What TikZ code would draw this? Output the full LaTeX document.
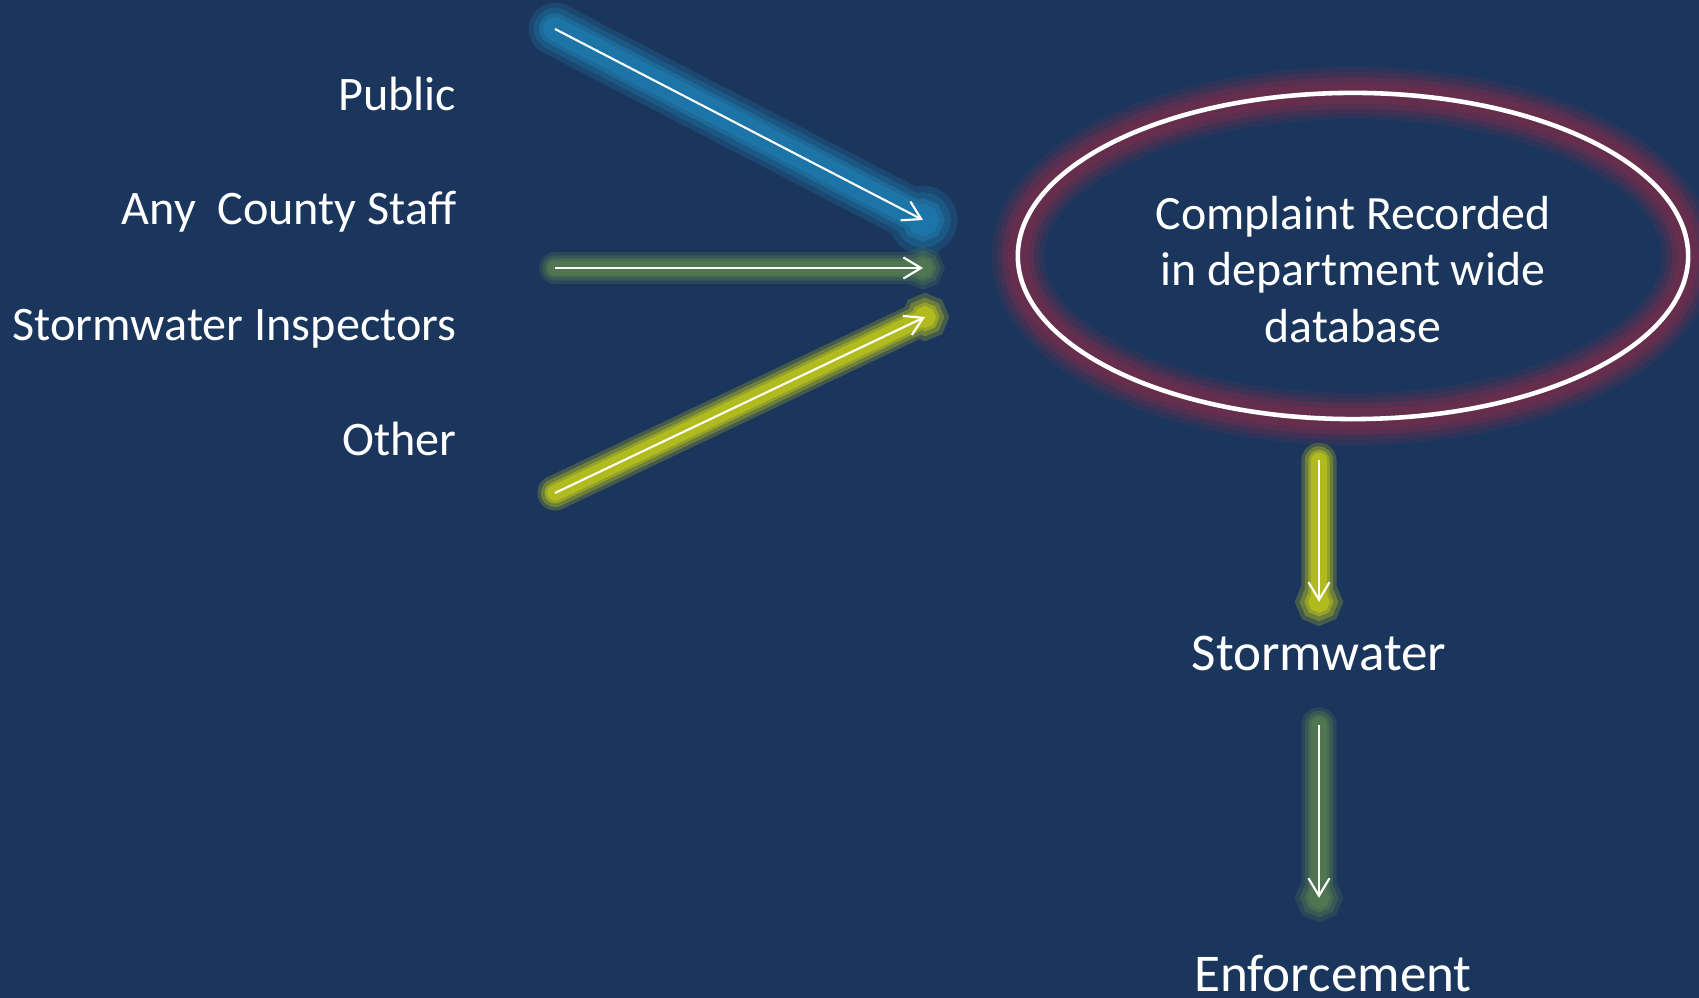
\documentclass[tikz,border=0pt]{standalone}
\usepackage{fontspec}
\setmainfont{Carlito}
\usetikzlibrary{arrows.meta,shapes.geometric}

\definecolor{bgblue}{RGB}{27,54,93}
\definecolor{glowblue}{RGB}{30,122,172}
\definecolor{glowgreen}{RGB}{84,124,80}
\definecolor{glowyellow}{RGB}{190,198,26}
\definecolor{glowred}{RGB}{112,46,76}

\tikzset{
  src/.style={anchor=base east, inner sep=0pt, text=white, font=\fontsize{13.7}{16}\selectfont},
  dest/.style={anchor=base, inner sep=0pt, text=white, font=\fontsize{15.1}{18}\selectfont},
  recbox/.style={ellipse, draw=white, line width=1.3pt, minimum width=6.7cm, minimum height=3.26cm,
    inner sep=0pt, text=white, align=center, font=\fontsize{13.6}{16.1}\selectfont},
  halo/.style={draw=#1, line cap=round},
  wire/.style={draw=white, line width=0.6pt, -{Straight Barb[length=5pt,width=6pt]}},
}

\begin{document}
\begin{tikzpicture}[x=0.01cm, y=-0.01cm]
\useasboundingbox (0,0) rectangle (1699,998);
\fill[bgblue] (0,0) rectangle (1699,998);

\node[src] (pub) at (457,111) {Public};
\node[src] (stf) at (457,225) {Any\ \ County Staff};
\node[src] (insp) at (457,341) {Stormwater Inspectors};
\node[src] (oth) at (457,456) {Other};

\coordinate (recc) at (1353,256);
\foreach \f/\o in {1/.2, .8/.3, .6/.45, .4/.65}
  \draw[halo=glowred, line width=\f*15pt, opacity=\o] (recc) ellipse (335 and 163);
\node[recbox] (rec) at (recc) {\rule{0pt}{0.6cm}Complaint Recorded\\in department wide\\database};

\node[dest] (sw) at (1319,671) {Stormwater};
\node[dest] (enf) at (1333,992) {Enforcement};

\coordinate (pubS) at (555,29);
\coordinate (pubE) at (923,220);
\coordinate (stfS) at (555,268);
\coordinate (stfE) at (923,268);
\coordinate (othS) at (555,493);
\coordinate (othE) at (925,317);
\path (rec.south -| sw.north) ++(0,39) coordinate (swS);
\path (sw.north) ++(0,-34) coordinate (swE);
\path (sw.south) ++(0,53) coordinate (enfS);
\path (sw.south |- enf.north) ++(0,-57) coordinate (enfE);

\foreach \a/\c/\k in {pub/glowblue/15, stf/glowgreen/9, oth/glowyellow/10, sw/glowyellow/10, enf/glowgreen/10}
  \foreach \f/\o in {1/.25, .8/.35, .6/.5, .45/.7}
    \draw[halo=\c, line width=\f*\k pt, opacity=\o] (\a S) -- (\a E)
      (\a E) circle [radius=\f*\k*0.15pt];

\draw[wire] (pubS) -- (pubE);
\draw[wire] (stfS) -- (stfE);
\draw[wire] (othS) -- (othE);
\draw[wire] (swS) -- (swE);
\draw[wire] (enfS) -- (enfE);
\end{tikzpicture}
\end{document}
